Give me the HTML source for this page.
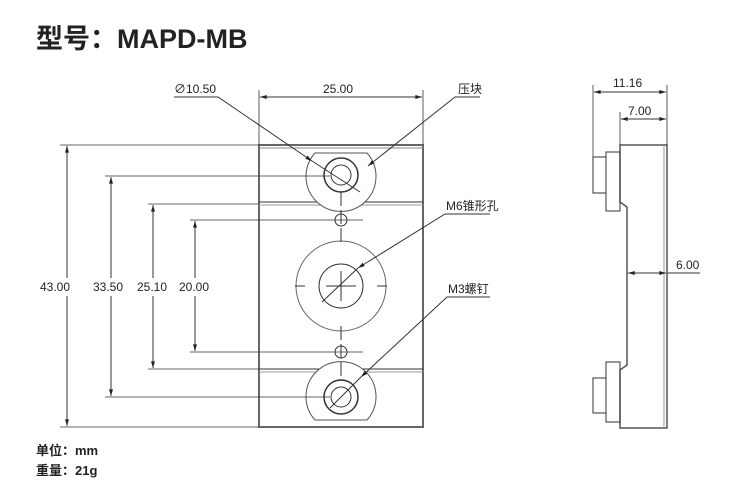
<!DOCTYPE html>
<html><head><meta charset="utf-8"><style>
body{margin:0;background:#fff;width:750px;height:497px;overflow:hidden}
svg text{font-family:"Liberation Sans","Noto Sans CJK SC",sans-serif;fill:#222}
</style></head><body>
<svg width="750" height="497" viewBox="0 0 750 497" xmlns="http://www.w3.org/2000/svg">
<defs>
<marker id="a" viewBox="0 0 10 6" refX="10" refY="3" markerWidth="8" markerHeight="4" orient="auto-start-reverse"><path d="M0,0L10,3L0,6z" fill="#222"/></marker>
</defs>
<text x="36" y="48" font-size="27" font-weight="bold">型号：MAPD-MB</text>
<text x="36" y="455" font-size="13" font-weight="bold">单位：mm</text>
<text x="36" y="475" font-size="13" font-weight="bold">重量：21g</text>
<g stroke="#333" fill="none" stroke-width="1">
<rect x="259" y="145" width="164" height="282" stroke-width="2" stroke="#666"/>
<line x1="259" y1="202" x2="423" y2="202"/>
<line x1="259" y1="369" x2="423" y2="369"/>
<line x1="259" y1="148" x2="423" y2="148" stroke="#888"/>
<line x1="259" y1="205" x2="423" y2="205" stroke="#999"/>
<line x1="259" y1="372" x2="423" y2="372" stroke="#999"/>
<path d="M315,153 L367,153 A35,35 0 1 1 315,153 Z" stroke="#555" fill="#fff"/>
<circle cx="341" cy="175" r="17" stroke-width="1.5"/>
<circle cx="341" cy="175" r="10"/>
<path d="M315,420 L367,420 A35,35 0 1 0 315,420 Z" stroke="#555" fill="#fff"/>
<circle cx="341" cy="397" r="17" stroke-width="1.5"/>
<circle cx="341" cy="397" r="10"/>
<circle cx="341" cy="220" r="6"/>
<circle cx="341" cy="352" r="6"/>
<circle cx="341" cy="286" r="45" stroke="#666"/>
<circle cx="341" cy="286" r="22"/>
<line x1="326" y1="286" x2="356" y2="286"/><line x1="341" y1="271" x2="341" y2="301"/>
<line x1="341" y1="192" x2="341" y2="246" stroke-dasharray="14,4"/>
<line x1="341" y1="326" x2="341" y2="380" stroke-dasharray="14,4"/>
<line x1="295" y1="286" x2="305" y2="286"/><line x1="377" y1="286" x2="387" y2="286"/>
<line x1="60" y1="145" x2="259" y2="145" stroke-width=".8"/>
<line x1="60" y1="427" x2="259" y2="427" stroke-width=".8"/>
<line x1="105" y1="176" x2="330" y2="176" stroke-width=".8"/>
<line x1="105" y1="397" x2="330" y2="397" stroke-width=".8"/>
<line x1="148" y1="204" x2="259" y2="204" stroke-width=".8"/>
<line x1="148" y1="369" x2="259" y2="369" stroke-width=".8"/>
<line x1="190" y1="220" x2="363" y2="220" stroke-width=".8"/>
<line x1="190" y1="352" x2="363" y2="352" stroke-width=".8"/>
<line x1="67" y1="146" x2="67" y2="278" marker-start="url(#a)"/><line x1="67" y1="296" x2="67" y2="426" marker-end="url(#a)"/>
<line x1="111" y1="177" x2="111" y2="278" marker-start="url(#a)"/><line x1="111" y1="296" x2="111" y2="396" marker-end="url(#a)"/>
<line x1="153" y1="205" x2="153" y2="278" marker-start="url(#a)"/><line x1="153" y1="296" x2="153" y2="368" marker-end="url(#a)"/>
<line x1="195" y1="221" x2="195" y2="278" marker-start="url(#a)"/><line x1="195" y1="296" x2="195" y2="351" marker-end="url(#a)"/>
<line x1="259" y1="90" x2="259" y2="145" stroke-width=".8"/>
<line x1="423" y1="90" x2="423" y2="145" stroke-width=".8"/>
<line x1="260" y1="97" x2="422" y2="97" marker-start="url(#a)" marker-end="url(#a)"/>
<polyline points="174,97 218,97 312,161" marker-end="url(#a)"/>
<line x1="312" y1="161" x2="360" y2="192"/>
<polyline points="480,97 455,97 368,166" marker-end="url(#a)"/>
<polyline points="490,214 445,214 358,268" marker-end="url(#a)"/>
<line x1="358" y1="268" x2="322" y2="302"/>
<polyline points="490,297 447,297 361,377" marker-end="url(#a)"/>
<line x1="361" y1="377" x2="330" y2="408"/>
<path d="M620,145 L667,145 L667,428 L620,428 L620,370 L627,365 L627,207 L620,202 Z" stroke="#555" stroke-width="1.5"/>
<line x1="664" y1="145" x2="664" y2="428" stroke="#999"/>
<rect x="606" y="152" width="14" height="59"/>
<rect x="593" y="157" width="13" height="36"/>
<rect x="606" y="362" width="14" height="60"/>
<rect x="593" y="378" width="13" height="35"/>
<line x1="593" y1="85" x2="593" y2="157" stroke-width=".8"/>
<line x1="667" y1="85" x2="667" y2="145" stroke-width=".8"/>
<line x1="620" y1="112" x2="620" y2="145" stroke-width=".8"/>
<line x1="594" y1="92" x2="666" y2="92" marker-start="url(#a)" marker-end="url(#a)"/>
<line x1="621" y1="119" x2="666" y2="119" marker-start="url(#a)" marker-end="url(#a)"/>
<line x1="628" y1="273" x2="666" y2="273" marker-start="url(#a)" marker-end="url(#a)"/>
<line x1="667" y1="273" x2="700" y2="273"/>
</g>
<g font-size="12">
<text x="40" y="291">43.00</text>
<text x="93" y="291">33.50</text>
<text x="137" y="291">25.10</text>
<text x="179" y="291">20.00</text>
<text x="323" y="93">25.00</text>
<text x="174" y="93">∅10.50</text>
<text x="458" y="93">压块</text>
<text x="446" y="210">M6锥形孔</text>
<text x="448" y="293">M3螺钉</text>
<text x="613" y="87">11.16</text>
<text x="628" y="115">7.00</text>
<text x="676" y="269">6.00</text>
</g>
</svg>
</body></html>
